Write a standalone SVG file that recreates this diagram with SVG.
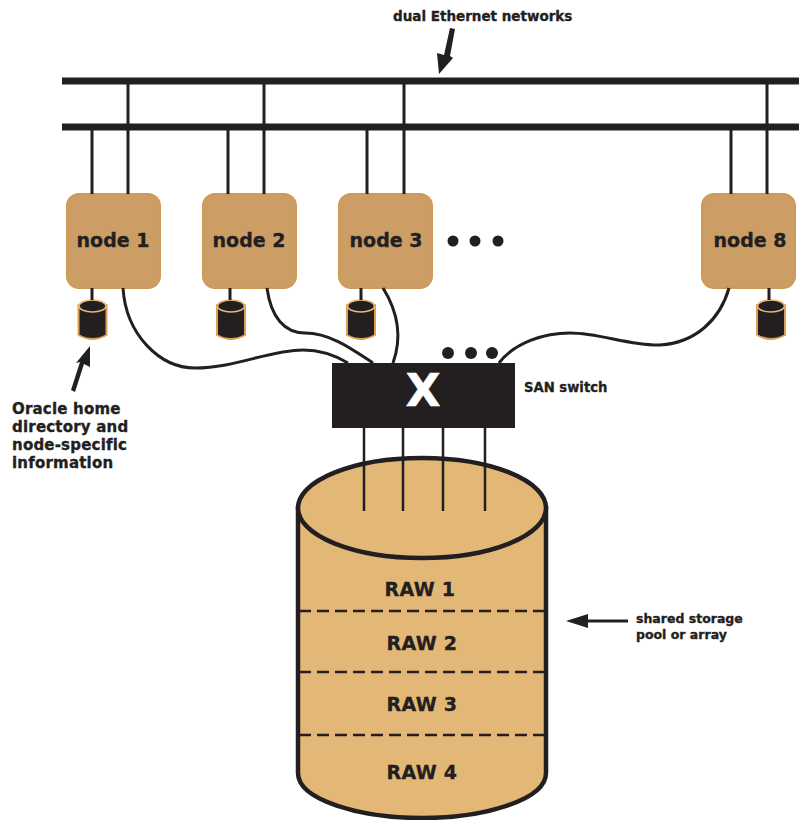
<svg xmlns="http://www.w3.org/2000/svg" width="799" height="820" viewBox="0 0 799 820">
<style>
text{font-family:"DejaVu Sans",sans-serif;font-weight:bold;fill:#231f20;stroke:#231f20;stroke-width:.35}
.n{font-size:19px;text-anchor:middle}
.r{font-size:19px;text-anchor:middle;letter-spacing:.3px}
.o{font-size:15px;letter-spacing:.2px}
.b{fill:#cc9e66;stroke:#cf9a55;stroke-width:2}
.l{fill:none;stroke:#231f20;stroke-width:3}
.t{fill:none;stroke:#231f20;stroke-width:2.5}
.c{fill:#e3b877;stroke:#231f20;stroke-width:4.5}
</style>
<defs>
<g id="disk"><path d="M-14 -13V17Q0 25 14 17V-13Z" fill="#231f20" stroke="#dd9f55" stroke-width="2"/><ellipse cx="0" cy="-12" rx="13.5" ry="6" fill="#231f20" stroke="#e8b877" stroke-width="1.5"/></g>
</defs>
<g id="node1"><rect class="b" x="67" y="194" width="93" height="94" rx="12"/><text class="n" x="113" y="247">node 1</text></g>
<g id="node2"><rect class="b" x="203" y="194" width="93" height="94" rx="12"/><text class="n" x="249" y="247">node 2</text></g>
<g id="node3"><rect class="b" x="339" y="194" width="93" height="94" rx="12"/><text class="n" x="386" y="247">node 3</text></g>
<g id="node8"><rect class="b" x="702" y="194" width="93" height="94" rx="12"/><text class="n" x="750" y="247">node 8</text></g>
<g id="dots1" fill="#231f20"><circle cx="453" cy="241" r="5.5"/><circle cx="475" cy="241" r="5.5"/><circle cx="498" cy="241" r="5.5"/></g>
<g id="dots2" fill="#231f20"><circle cx="448" cy="353" r="6"/><circle cx="471" cy="353" r="6"/><circle cx="492" cy="353" r="6"/></g>
<g id="disk1"><use href="#disk" x="92.500" y="318"/></g>
<g id="disk2"><use href="#disk" x="231" y="318"/></g>
<g id="disk3"><use href="#disk" x="361" y="318"/></g>
<g id="disk8"><use href="#disk" x="771" y="318"/></g>
<g id="switch"><rect x="332" y="363" width="183" height="65" fill="#231f20"/><text x="423" y="406" font-size="45" text-anchor="middle" style="fill:#fff;stroke:#fff;stroke-width:.6">X</text></g>
<g id="pool">
<path class="c" d="M298 508V773C298 800 360 818 422 818C484 818 546 800 546 773V508Z"/>
<ellipse class="c" cx="422" cy="508" rx="124" ry="50"/>
<path d="M299 611H545M299 672H545M299 735H545" fill="none" stroke="#231f20" stroke-width="2.5" stroke-dasharray="12 6"/>
<text class="r" x="420" y="596">RAW 1</text>
<text class="r" x="422" y="650">RAW 2</text>
<text class="r" x="422" y="711">RAW 3</text>
<text class="r" x="422" y="779">RAW 4</text>
</g>
<g id="connectors">
<path d="M62 81H799M62 127H799" fill="none" stroke="#231f20" stroke-width="7"/>
<path class="l" d="M92 127V194M128 81V194M228 127V194M264 81V194M367 127V194M404 81V194M731 127V194M767 81V194"/>
<path class="l" d="M92 288V300M230 288V300M361 288V300M769 288V300"/>
<path class="l" d="M123 288C126 335 160 368 195 368C235 368 270 350 303 350C322 350 338 357 348 363"/>
<path class="l" d="M267 288C271 318 285 333 305 333C330 333 352 349 373 363"/>
<path class="l" d="M383 288C398 312 402 338 393 363"/>
<path class="l" d="M499 363C515 342 545 333 570 333C600 333 630 346 660 345C695 343 720 320 729 288"/>
<path class="t" d="M364 428V511M403 428V511M443 428V511M485 428V511"/>
</g>
<g id="pointers" fill="#231f20">
<path d="M439 74L437 53L444 55L450 28L455 29L450 56L453 58Z"/>
<path d="M90 346L90 367L84 364L75 392L71 390L80 362L76 363Z"/>
<path d="M566 621L588 614V619.500H628V622.500H588V628Z"/>
</g>
<g id="labels">
<text x="393" y="21" style="font-size:13.500px">dual Ethernet networks</text>
<text x="524" y="392" style="font-size:13.200px">SAN switch</text>
<text x="636" y="623" style="font-size:12.500px">shared storage</text>
<text x="636" y="639" style="font-size:12.500px">pool or array</text>
<text class="o" x="12" y="414">Oracle home</text>
<text class="o" x="12" y="432">directory and</text>
<text class="o" x="12" y="450">node-specific</text>
<text class="o" x="12" y="468">information</text>
</g>
</svg>
